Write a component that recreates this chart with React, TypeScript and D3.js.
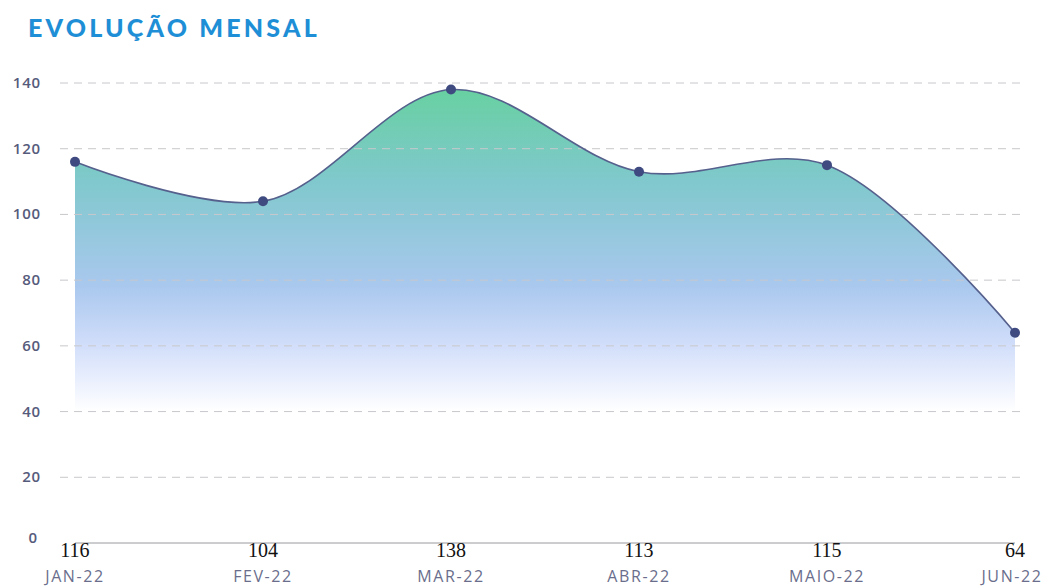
import React from "react";
import * as d3 from "d3";

const months = ["JAN-22", "FEV-22", "MAR-22", "ABR-22", "MAIO-22", "JUN-22"];
const values = [116, 104, 138, 113, 115, 64];
const yTicks = [0, 20, 40, 60, 80, 100, 120, 140];

export default function App() {
  const W = 1048, H = 588;
  const x = d3.scalePoint<string>().domain(months).range([75, 1015]);
  const y = d3.scaleLinear().domain([0, 140]).range([543, 83]);
  const pts = months.map((m, i) => [x(m)!, y(values[i])] as [number, number]);
  const curve = d3.curveCatmullRom.alpha(0.5);
  const line = d3.line().curve(curve)(pts)!;
  const area = d3.area().curve(curve).x(d => d[0]).y1(d => d[1]).y0(y(40))(pts)!;
  return (
    <svg width={W} height={H} style={{ position: "absolute", left: 0, top: 0, background: "#fff" }}>
      <defs>
        <linearGradient id="g" gradientUnits="userSpaceOnUse" x1={0} y1={y(140)} x2={0} y2={y(40)}>
          <stop offset="0" stopColor="#66d19e" />
          <stop offset="0.3" stopColor="#80c8cd" />
          <stop offset="0.62" stopColor="#aac8ee" />
          <stop offset="0.8" stopColor="#d2defa" />
          <stop offset="1" stopColor="#ffffff" />
        </linearGradient>
      </defs>
      <text x={28} y={37} fill="#1e8fd6" fontFamily="Lato, 'Noto Sans', sans-serif" fontWeight={900}
        fontSize={25} letterSpacing={3.2}>EVOLUÇÃO  MENSAL</text>
      <path d={area} fill="url(#g)" />
      {yTicks.filter(t => t > 0).map(t => (
        <line key={t} x1={60} x2={1020} y1={y(t)} y2={y(t)} stroke="#c8c8cc" strokeWidth={1} strokeDasharray="8 6" />
      ))}
      {yTicks.map(t => (
        <text key={t} x={t === 0 ? 38 : 41} y={y(t) + (t === 0 ? 0 : 5)} textAnchor="end" fill="#565b7c"
          fontFamily="'Open Sans', sans-serif" fontWeight={600} fontSize={15} letterSpacing={0.8}>{t}</text>
      ))}
      <line x1={75} x2={1015} y1={543} y2={543} stroke="#9a9aa0" strokeWidth={1} />
      <path d={line} fill="none" stroke="#55608c" strokeWidth={1.6} />
      {pts.map((p, i) => (
        <circle key={i} cx={p[0]} cy={p[1]} r={5} fill="#3e4a80" />
      ))}
      {months.map((m, i) => (
        <text key={m} x={x(m)!} y={557} textAnchor="middle" fill="#111"
          fontFamily="'Liberation Serif', 'DejaVu Serif', serif" fontSize={20}>{values[i]}</text>
      ))}
      {months.map(m => (
        <text key={m} x={Math.min(x(m)!, 1012)} y={582} textAnchor="middle" fill="#6a6e8c"
          fontFamily="'Open Sans', sans-serif" fontSize={16} letterSpacing={1.6}>{m}</text>
      ))}
    </svg>
  );
}
